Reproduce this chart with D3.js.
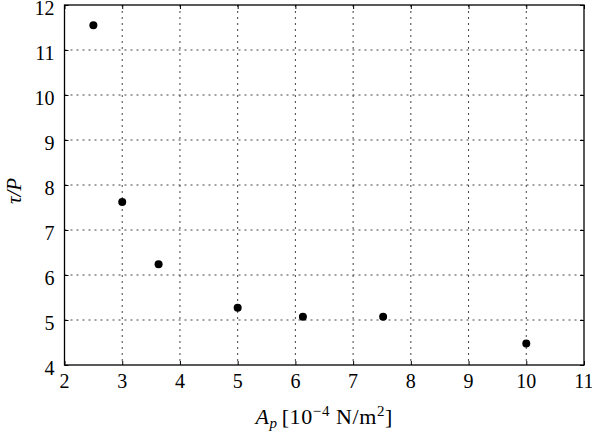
<!DOCTYPE html>
<html>
<head>
<meta charset="utf-8">
<script src="https://cdn.jsdelivr.net/npm/d3@7"></script>
<style>
  html, body { margin: 0; padding: 0; background: #fff; }
  svg { display: block; font-family: "Liberation Serif", "DejaVu Serif", serif; }
</style>
</head>
<body>
<div id="chart"></div>
<script>
const areaValues = [2.5, 3.0, 3.63, 5.0, 6.13, 7.52, 10.0];
const ratioValues = [11.55, 7.62, 6.24, 5.27, 5.07, 5.07, 4.48];
const xTicks = [2, 3, 4, 5, 6, 7, 8, 9, 10, 11];
const yTicks = [4, 5, 6, 7, 8, 9, 10, 11, 12];

const width = 592;
const height = 436;
const margin = { top: 5, right: 8, bottom: 71, left: 64.5 };
const innerWidth = width - margin.left - margin.right;
const innerHeight = height - margin.top - margin.bottom;

const xScale = d3.scaleLinear().domain([2, 11]).range([0, innerWidth]);
const yScale = d3.scaleLinear().domain([4, 12]).range([innerHeight, 0]);

const svg = d3
  .select("#chart")
  .append("svg")
  .attr("width", width)
  .attr("height", height)
  .attr("viewBox", [0, 0, width, height]);

const chart = svg
  .append("g")
  .attr("transform", `translate(${margin.left},${margin.top})`);

// dashed grid
chart
  .append("g")
  .selectAll("line")
  .data(xTicks.slice(1, -1))
  .join("line")
  .attr("x1", (d) => xScale(d))
  .attr("x2", (d) => xScale(d))
  .attr("y1", 0)
  .attr("y2", innerHeight)
  .attr("stroke", "#444")
  .attr("stroke-width", 1)
  .attr("stroke-dasharray", "2,4");

chart
  .append("g")
  .selectAll("line")
  .data(yTicks.slice(1, -1))
  .join("line")
  .attr("x1", 0)
  .attr("x2", innerWidth)
  .attr("y1", (d) => yScale(d))
  .attr("y2", (d) => yScale(d))
  .attr("stroke", "#444")
  .attr("stroke-width", 1)
  .attr("stroke-dasharray", "2,4");

// inward tick marks on all four sides (labels drawn separately)
const tickMarks = (axis) => {
  axis.select(".domain").remove();
  axis.selectAll(".tick text").remove();
  axis.selectAll(".tick line").attr("stroke", "#000");
};

chart
  .append("g")
  .attr("transform", `translate(0,${innerHeight})`)
  .call(d3.axisBottom(xScale).tickValues(xTicks).tickSizeInner(-4).tickSizeOuter(0))
  .call(tickMarks);

chart
  .append("g")
  .call(d3.axisTop(xScale).tickValues(xTicks).tickSizeInner(-4).tickSizeOuter(0))
  .call(tickMarks);

chart
  .append("g")
  .call(d3.axisLeft(yScale).tickValues(yTicks).tickSizeInner(-4).tickSizeOuter(0))
  .call(tickMarks);

chart
  .append("g")
  .attr("transform", `translate(${innerWidth},0)`)
  .call(d3.axisRight(yScale).tickValues(yTicks).tickSizeInner(-4).tickSizeOuter(0))
  .call(tickMarks);

chart
  .append("g")
  .selectAll("text")
  .data(xTicks)
  .join("text")
  .attr("x", (d) => xScale(d))
  .attr("y", innerHeight + 23)
  .attr("text-anchor", "middle")
  .style("font-size", "20px")
  .attr("fill", "#000")
  .text((d) => d);

chart
  .append("g")
  .selectAll("text")
  .data(yTicks)
  .join("text")
  .attr("x", -10)
  .attr("y", (d) => yScale(d) + 10)
  .attr("text-anchor", "end")
  .style("font-size", "20px")
  .attr("fill", "#000")
  .text((d) => d);

// frame
chart
  .append("rect")
  .attr("width", innerWidth)
  .attr("height", innerHeight)
  .attr("fill", "none")
  .attr("stroke", "#000")
  .attr("stroke-width", 1.3);

// points
chart
  .append("g")
  .selectAll("circle")
  .data(areaValues.map((x, i) => ({ x, y: ratioValues[i] })))
  .join("circle")
  .attr("cx", (d) => xScale(d.x))
  .attr("cy", (d) => yScale(d.y))
  .attr("r", 4)
  .attr("fill", "#000");

// axis labels
const xLabel = svg
  .append("text")
  .attr("x", margin.left + innerWidth / 2)
  .attr("y", 424)
  .attr("text-anchor", "middle")
  .style("font-size", "22px")
  .style("letter-spacing", "0.6px")
  .attr("fill", "#000");
xLabel.append("tspan").style("font-style", "italic").text("A");
xLabel.append("tspan").style("font-style", "italic").style("font-size", "15px").attr("dy", 4).text("p");
xLabel.append("tspan").attr("dy", -4).attr("dx", 4).text("[10");
xLabel.append("tspan").style("font-size", "15px").attr("dy", -8).text("−4");
xLabel.append("tspan").attr("dy", 8).attr("dx", 6).text("N/m");
xLabel.append("tspan").style("font-size", "15px").attr("dy", -8).text("2");
xLabel.append("tspan").attr("dy", 8).text("]");

svg
  .append("text")
  .attr("transform", `translate(21,191) rotate(-90)`)
  .attr("text-anchor", "middle")
  .style("font-size", "21px")
  .style("font-style", "italic")
  .attr("fill", "#000")
  .text("τ/P");
</script>
</body>
</html>
